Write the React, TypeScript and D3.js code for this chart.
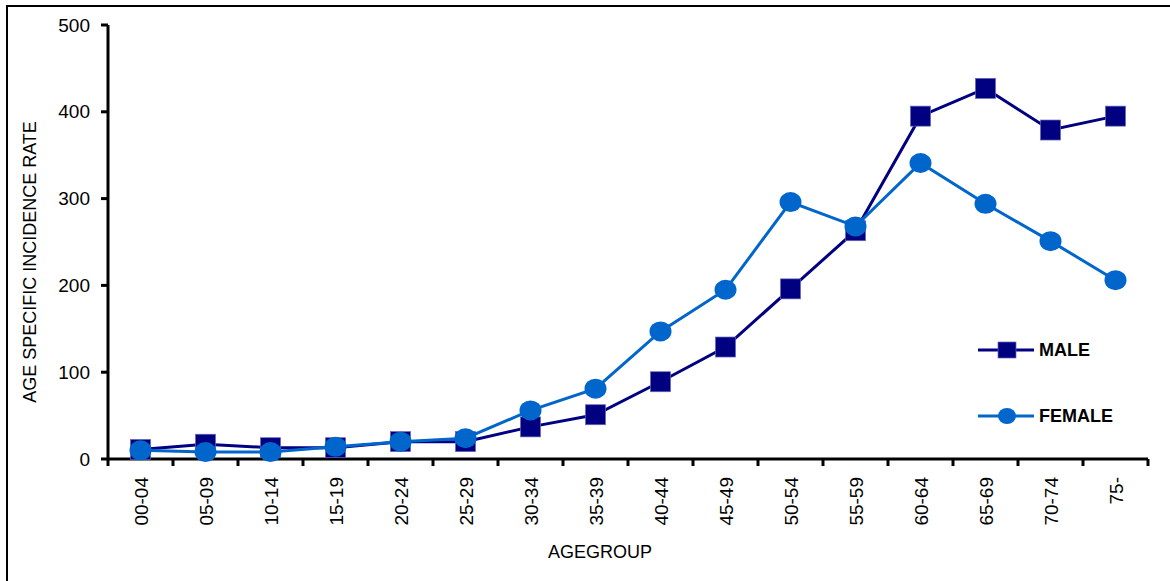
import React from "react";
import * as d3 from "d3";

const categories = ["00-04","05-09","10-14","15-19","20-24","25-29","30-34","35-39","40-44","45-49","50-54","55-59","60-64","65-69","70-74","75-"];
const male = [11, 17, 13, 13, 20, 20, 37, 51, 89, 129, 196, 263, 395, 427, 379, 395];
const female = [10, 8, 8, 14, 20, 24, 56, 81, 147, 195, 296, 268, 341, 294, 251, 206];
const yTicks = [0, 100, 200, 300, 400, 500];

const FONT = "'Liberation Sans Narrow', 'Arial Narrow', 'Liberation Sans', Arial, sans-serif";
const MALE_C = "#000080";
const FEMALE_C = "#0066CC";

export default function App() {
  const W = 1170, H = 581;
  const x0 = 108, x1 = 1148, yTop = 25, yBot = 459;
  const x = d3.scaleBand<string>().domain(categories).range([x0, x1]);
  const y = d3.scaleLinear().domain([0, 500]).range([yBot, yTop]);
  const cx = (c: string) => (x(c) as number) + x.bandwidth() / 2;
  const line = d3.line<number>().x((_, i) => cx(categories[i])).y((d) => y(d));

  const bounds = [...categories.map((c) => x(c) as number), x1];

  return (
    <svg width={W} height={H} style={{ position: "absolute", left: 0, top: 0 }} fontFamily={FONT}>
      <rect x={0} y={0} width={W} height={H} fill="#fff" />
      <rect x={7} y={6} width={1300} height={800} fill="none" stroke="#000" strokeWidth={2} />
      {/* y axis */}
      <line x1={x0} x2={x0} y1={yTop} y2={yBot} stroke="#000" strokeWidth={3} />
      {yTicks.map((t) => (
        <g key={t}>
          <line x1={x0 - 7} x2={x0} y1={y(t)} y2={y(t)} stroke="#000" strokeWidth={3} />
          <text x={90} y={y(t)} dy="0.35em" textAnchor="end" fontSize={19}>{t}</text>
        </g>
      ))}
      {/* x axis */}
      <line x1={x0} x2={x1} y1={yBot} y2={yBot} stroke="#000" strokeWidth={3} />
      {bounds.map((b, i) => (
        <line key={i} x1={b} x2={b} y1={yBot} y2={yBot + 7} stroke="#000" strokeWidth={3} />
      ))}
      {categories.map((c) => (
        <text key={c} transform={`translate(${cx(c) + 7},${477}) rotate(-90)`} textAnchor="end" fontSize={19}>{c}</text>
      ))}
      <text x={600} y={558} textAnchor="middle" fontSize={18}>AGEGROUP</text>
      <text transform={`translate(36,262) rotate(-90)`} textAnchor="middle" fontSize={18}>AGE SPECIFIC INCIDENCE RATE</text>

      {/* series */}
      <path d={line(male) as string} fill="none" stroke={MALE_C} strokeWidth={3} />
      {male.map((v, i) => (
        <rect key={i} x={cx(categories[i]) - 10} y={y(v) - 10} width={20} height={20} fill={MALE_C} stroke="#6666bb" strokeWidth={0.7} />
      ))}
      <path d={line(female) as string} fill="none" stroke={FEMALE_C} strokeWidth={3} />
      {female.map((v, i) => (
        <ellipse key={i} cx={cx(categories[i])} cy={y(v)} rx={11} ry={10} fill={FEMALE_C} />
      ))}

      {/* legend */}
      <line x1={978} x2={1034} y1={350} y2={350} stroke={MALE_C} strokeWidth={3} />
      <rect x={998} y={342} width={18} height={16} fill={MALE_C} stroke="#6666bb" strokeWidth={0.7} />
      <text x={1039} y={350} dy="0.35em" fontSize={18} fontWeight="bold" fontFamily="'Liberation Sans', Arial, sans-serif">MALE</text>
      <line x1={978} x2={1034} y1={416} y2={416} stroke={FEMALE_C} strokeWidth={3} />
      <ellipse cx={1007} cy={416} rx={9} ry={8} fill={FEMALE_C} />
      <text x={1039} y={416} dy="0.35em" fontSize={18} fontWeight="bold" fontFamily="'Liberation Sans', Arial, sans-serif">FEMALE</text>
    </svg>
  );
}
